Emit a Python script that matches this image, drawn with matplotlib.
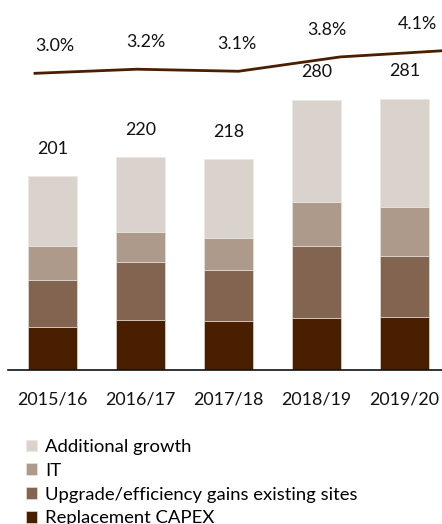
import numpy as np
import matplotlib.pyplot as plt

# ---------- data ----------
years = ["2015/16", "2016/17", "2017/18", "2018/19", "2019/20"]
replacement = [44, 52, 51, 53.5, 55]
upgrade = [49.5, 60, 53, 75, 63.5]
it_spend = [35, 30.5, 33, 45, 50.5]
additional = [72.5, 77.5, 81, 106.5, 112]
totals = [201, 220, 218, 280, 281]
share_pct = [3.0, 3.2, 3.1, 3.8, 4.1]

series = [
    ("Replacement CAPEX", replacement, "#4A1F00"),
    ("Upgrade/efficiency gains existing sites", upgrade, "#826450"),
    ("IT", it_spend, "#AD9A8B"),
    ("Additional growth", additional, "#DAD2CC"),
]

plt.rcParams['font.family'] = ['Lato', 'DejaVu Sans']
W, H = 442, 524
fig = plt.figure(figsize=(W / 100, H / 100), dpi=100)

# axes spans x 8..442 px, y 0..370 px (from top)
ax = fig.add_axes([8 / W, (H - 370) / H, 434 / W, 370 / H])
x = np.arange(len(years))
bottom = np.zeros(len(years))
bars = []
for name, vals, col in series:
    b = ax.bar(x, vals, 0.557, bottom=bottom, color=col, label=name,
               edgecolor="#EDE7E2", linewidth=0.4)
    bars.append(b)
    bottom += np.array(vals)

ax.set_xlim(-0.506, 4.426)
ax.set_ylim(0, 383)
for xi, t in zip(x, totals):
    ax.annotate(f"{t}", (xi, t), xytext=(0, 19.5), textcoords="offset points",
                ha="center", va="center", fontsize=12.9, color="#111111")
ax.set_xticks(x)
ax.set_xticklabels(years, fontsize=12.9, color="#111111")
ax.tick_params(axis="x", length=0, pad=15.5)
ax.set_yticks([])
for s in ["top", "right", "left"]:
    ax.spines[s].set_visible(False)
ax.spines["bottom"].set_linewidth(1.2)
ax.spines["bottom"].set_color("#111111")

# line on its own axes (different category spacing)
ax2 = fig.add_axes(ax.get_position(), frameon=False)
ax2.plot(x, share_pct, color="#4A1F00", lw=2)
ax2.set_xlim(-0.265, 4.0)
ax2.set_ylim(-11.47, 6.576)
ax2.set_xticks([])
ax2.set_yticks([])

# percent labels placed over the bar centres
trans = ax.get_xaxis_transform()
for xi, p in zip(x, share_pct):
    ypix = 73.3 - (p - 3.0) * 20.5 - 27
    ax.text(xi + 0.06 * xi / 2 + 0.03, 1 - ypix / 370, f"{p:.1f}%", transform=trans,
            ha="center", va="center", fontsize=12.9, color="#111111")

handles = bars[::-1]
labels = [s[0] for s in series][::-1]
fig.legend(handles, labels, loc="upper left", bbox_to_anchor=(26 / W, 1 - 439 / H),
           frameon=False, fontsize=13.3, handlelength=0.62, handleheight=0.62,
           handletextpad=0.4, labelspacing=0.42, borderpad=0, borderaxespad=0)

fig.savefig("out.png", dpi=100)
